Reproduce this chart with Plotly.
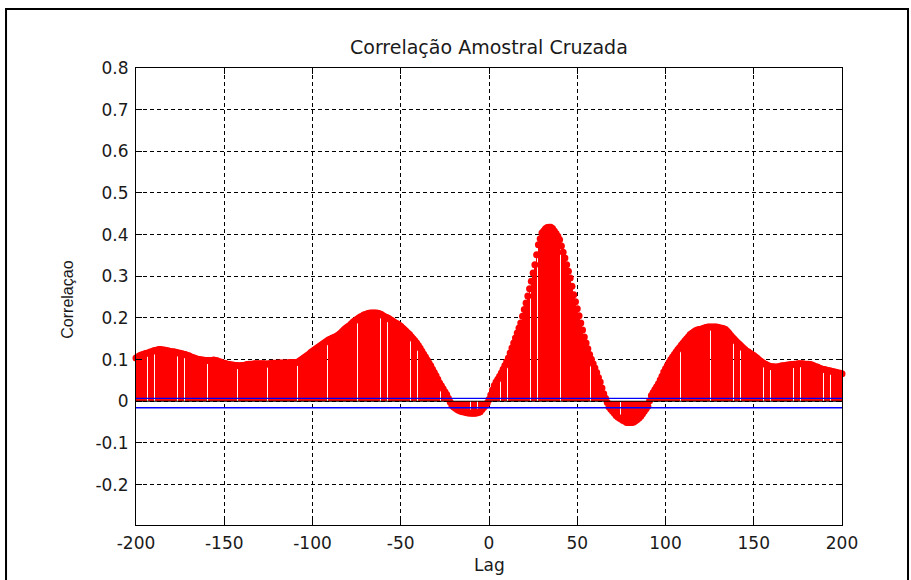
import plotly.graph_objects as go

lags = list(range(-200, 201))

corr_values = [
    0.104, 0.106, 0.109, 0.111, 0.112, 0.114, 0.115, 0.116, 0.118, 0.119,
    0.121, 0.122, 0.123, 0.124, 0.124, 0.123, 0.123, 0.122, 0.121, 0.120,
    0.119, 0.119, 0.118, 0.117, 0.116, 0.115, 0.114, 0.113, 0.112, 0.110,
    0.109, 0.107, 0.105, 0.104, 0.102, 0.101, 0.100, 0.099, 0.099, 0.098,
    0.098, 0.098, 0.097, 0.098, 0.099, 0.098, 0.097, 0.095, 0.094, 0.092,
    0.091, 0.090, 0.089, 0.088, 0.087, 0.087, 0.086, 0.086, 0.085, 0.085,
    0.086, 0.086, 0.087, 0.088, 0.089, 0.089, 0.089, 0.090, 0.090, 0.090,
    0.090, 0.090, 0.090, 0.090, 0.089, 0.090, 0.090, 0.091, 0.091, 0.091,
    0.091, 0.092, 0.092, 0.092, 0.092, 0.092, 0.092, 0.093, 0.093, 0.093,
    0.093, 0.093, 0.095, 0.098, 0.101, 0.104, 0.107, 0.110, 0.113, 0.117,
    0.120, 0.123, 0.126, 0.129, 0.132, 0.135, 0.138, 0.141, 0.144, 0.147,
    0.149, 0.151, 0.153, 0.155, 0.157, 0.160, 0.164, 0.168, 0.172, 0.176,
    0.179, 0.182, 0.186, 0.190, 0.193, 0.196, 0.199, 0.202, 0.204, 0.207,
    0.208, 0.210, 0.211, 0.212, 0.212, 0.212, 0.212, 0.211, 0.210, 0.208,
    0.205, 0.203, 0.201, 0.199, 0.196, 0.194, 0.191, 0.188, 0.186, 0.183,
    0.180, 0.176, 0.172, 0.168, 0.164, 0.160, 0.155, 0.150, 0.145, 0.140,
    0.134, 0.127, 0.120, 0.113, 0.106, 0.099, 0.092, 0.085, 0.077, 0.069,
    0.061, 0.053, 0.044, 0.037, 0.030, 0.023, 0.016, 0.007, -0.002, -0.010,
    -0.014, -0.017, -0.020, -0.022, -0.024, -0.025, -0.026, -0.027, -0.028, -0.028,
    -0.029, -0.029, -0.029, -0.028, -0.027, -0.025, -0.020, -0.015, -0.010, -0.004,
    0.004,
    0.015, 0.027, 0.038, 0.046, 0.053, 0.060, 0.068, 0.077, 0.086, 0.095,
    0.104, 0.116, 0.128, 0.140, 0.152, 0.164, 0.176, 0.188, 0.204, 0.220,
    0.236, 0.253, 0.270, 0.288, 0.308, 0.328, 0.352, 0.376, 0.390, 0.404,
    0.409, 0.414, 0.417, 0.418, 0.418, 0.415, 0.409, 0.403, 0.396, 0.388,
    0.373, 0.358, 0.344, 0.328, 0.312, 0.296, 0.276, 0.256, 0.239, 0.222,
    0.205, 0.188, 0.171, 0.154, 0.140, 0.126, 0.112, 0.101, 0.090, 0.080,
    0.069, 0.057, 0.046, 0.032, 0.018, 0.007, -0.003, -0.014, -0.019, -0.024,
    -0.029, -0.034, -0.038, -0.041, -0.043, -0.046, -0.048, -0.051, -0.051, -0.051,
    -0.051, -0.050, -0.047, -0.044, -0.040, -0.036, -0.030, -0.024, -0.018, -0.012,
    0.001, 0.014, 0.021, 0.028, 0.035, 0.042, 0.051, 0.060, 0.070, 0.078,
    0.085, 0.093, 0.100, 0.106, 0.112, 0.118, 0.124, 0.129, 0.135, 0.140,
    0.145, 0.150, 0.155, 0.160, 0.163, 0.166, 0.169, 0.171, 0.172, 0.173,
    0.174, 0.176, 0.177, 0.178, 0.178, 0.178, 0.178, 0.178, 0.178, 0.177,
    0.176, 0.175, 0.174, 0.172, 0.168, 0.163, 0.158, 0.153, 0.149, 0.144,
    0.140, 0.136, 0.132, 0.128, 0.124, 0.120, 0.118, 0.115, 0.112, 0.110,
    0.106, 0.103, 0.099, 0.096, 0.093, 0.090, 0.088, 0.086, 0.084, 0.083,
    0.083, 0.082, 0.082, 0.083, 0.084, 0.085, 0.085, 0.086, 0.087, 0.087,
    0.088, 0.088, 0.089, 0.089, 0.090, 0.090, 0.090, 0.090, 0.089, 0.089,
    0.089, 0.088, 0.087, 0.085, 0.083, 0.082, 0.080, 0.078, 0.077, 0.076,
    0.075, 0.074, 0.073, 0.072, 0.071, 0.070, 0.069, 0.068, 0.067, 0.066,
]

conf_bounds = [0.007, -0.0155]
x_ticks = [-200, -150, -100, -50, 0, 50, 100, 150, 200]
x_tick_text = ["-200", "-150", "-100", "-50", "0", "50", "100", "150", "200"]
y_ticks = [-0.2, -0.1, 0, 0.1, 0.2, 0.3, 0.4, 0.5, 0.6, 0.7, 0.8]
y_tick_text = ["-0.2", "-0.1", "0", "0.1", "0.2", "0.3", "0.4", "0.5", "0.6", "0.7", "0.8"]

title_text = "Correlação Amostral Cruzada"
x_title = "Lag"
y_title = "Correlaçao"

WIDE = "DejaVu Sans, Verdana, sans-serif"
NARROW = "Liberation Sans, Arial, sans-serif"
TXT = "#1a1a1a"

fig = go.Figure()

# stems
fig.add_trace(go.Bar(
    x=lags, y=corr_values, base=0, width=0.95,
    marker=dict(color="#ff0000", line=dict(width=0.02, color="#ff0000")),
    showlegend=False, hoverinfo="skip",
))
# stem heads
fig.add_trace(go.Scatter(
    x=lags, y=corr_values, mode="markers",
    marker=dict(color="#ff0000", size=7, line=dict(width=0)),
    cliponaxis=False, showlegend=False,
))
# baseline
fig.add_trace(go.Scatter(
    x=[lags[0], lags[-1]], y=[0, 0], mode="lines",
    line=dict(color="black", width=1.2), showlegend=False, hoverinfo="skip",
))
# confidence bounds
for b in conf_bounds:
    fig.add_trace(go.Scatter(
        x=[lags[0], lags[-1]], y=[b, b], mode="lines",
        line=dict(color="#0000ff", width=1.3), showlegend=False, hoverinfo="skip",
    ))

axis_common = dict(
    showline=True, linecolor="black", linewidth=1, mirror="ticks",
    ticks="inside", ticklen=6, tickcolor="black", tickwidth=1,
    showgrid=True, gridcolor="black", gridwidth=1, griddash="4px,3px",
    zeroline=False,
    tickfont=dict(family=WIDE, size=17, color=TXT),
)

fig.update_xaxes(range=[-200, 200], tickvals=x_ticks, ticktext=x_tick_text,
                 ticklabelstandoff=3, **axis_common)
fig.update_yaxes(range=[-0.297, 0.8], tickvals=y_ticks, ticktext=y_tick_text,
                 ticklabelstandoff=3, **axis_common)

fig.update_layout(
    width=911, height=580,
    margin=dict(l=136, r=69, t=68, b=55),
    plot_bgcolor="white", paper_bgcolor="white",
    bargap=0,
    font=dict(family=WIDE, color=TXT),
    annotations=[
        dict(text=title_text, xref="paper", yref="paper", x=0.5, y=1.0, yshift=21,
             showarrow=False, font=dict(size=19, family=WIDE, color=TXT),
             xanchor="center", yanchor="middle"),
        dict(text=x_title, xref="paper", yref="paper", x=0.5, y=0, yshift=-40,
             showarrow=False, font=dict(size=17, family=WIDE, color=TXT),
             xanchor="center", yanchor="middle"),
        dict(text=y_title, xref="paper", yref="paper", x=0, xshift=-68, y=0.493,
             showarrow=False, textangle=-90, font=dict(size=16, family=NARROW, color=TXT),
             xanchor="center", yanchor="middle"),
    ],
    shapes=[
        dict(type="rect", xref="paper", yref="paper",
             x0=-0.1841, x1=1.0935, y0=-0.3, y1=1.129,
             line=dict(color="black", width=2), fillcolor="rgba(0,0,0,0)", layer="below"),
    ],
)

fig.write_html("out.html")
